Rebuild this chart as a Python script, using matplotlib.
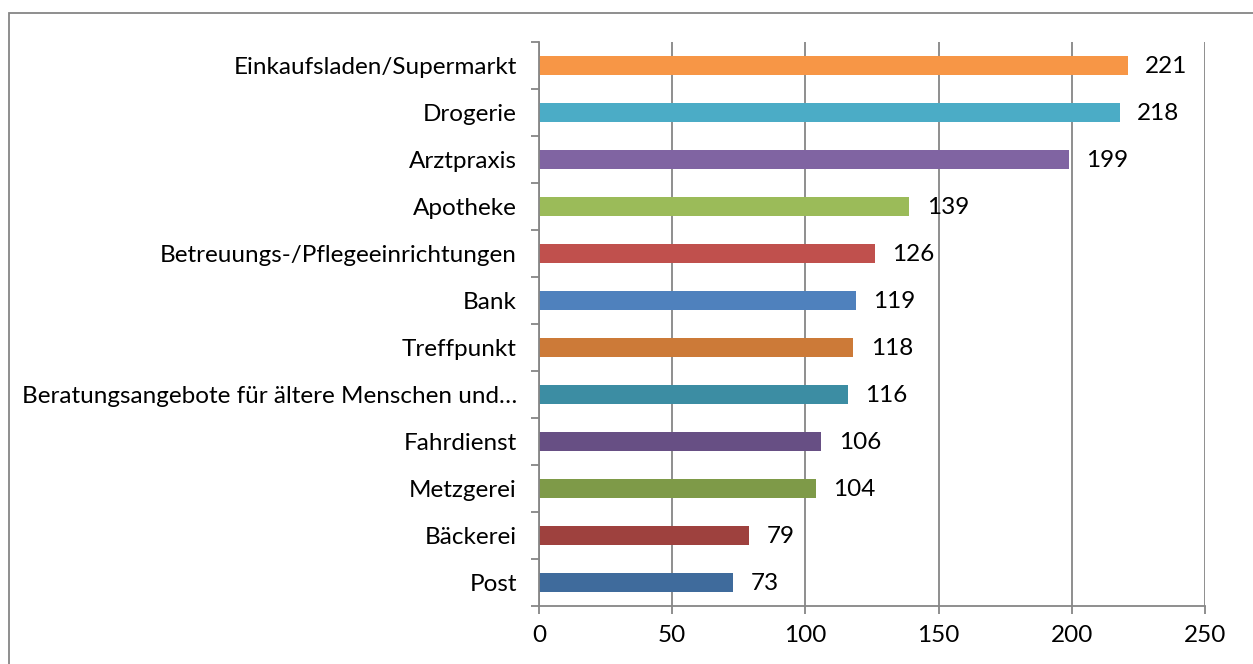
import matplotlib
matplotlib.use("Agg")
import matplotlib.pyplot as plt
from matplotlib.patches import Rectangle

categories = ["Einkaufsladen/Supermarkt", "Drogerie", "Arztpraxis", "Apotheke",
              "Betreuungs-/Pflegeeinrichtungen", "Bank", "Treffpunkt",
              "Beratungsangebote für ältere Menschen und…", "Fahrdienst",
              "Metzgerei", "Bäckerei", "Post"]
values = [221, 218, 199, 139, 126, 119, 118, 116, 106, 104, 79, 73]
colors = ["#F79646", "#4BACC6", "#8064A2", "#9BBB59", "#C0504D", "#4F81BD",
          "#CC7A38", "#3C8DA3", "#674F84", "#7E9A48", "#9E413E", "#3F6B9C"]
xticks = [0, 50, 100, 150, 200, 250]

plt.rcParams['font.family'] = ['Lato', 'DejaVu Sans']
FS = 17.5
W, H = 1253, 664
fig = plt.figure(figsize=(W/100, H/100), dpi=100)
ax = fig.add_axes([539/W, 1-606/H, (1205-539)/W, (606-42)/H])

n = len(categories)
ypos = list(range(n))[::-1]
ax.barh(ypos, values, height=0.4, color=colors, zorder=3)
for y, v in zip(ypos, values):
    ax.annotate(str(v), (v, y), xytext=(12.5, -1), textcoords='offset points',
                ha='left', va='center', fontsize=FS, color='black')

ax.set_xlim(0, 250)
ax.set_ylim(-0.5, n-0.5)
ax.set_xticks(xticks)
ax.set_xticklabels([str(t) for t in xticks])
ax.set_yticks(ypos)
ax.set_yticklabels(categories)
ax.set_yticks([i - 0.5 for i in range(n+1)], minor=True)
ax.tick_params(axis='y', which='major', length=0, pad=16, labelsize=FS)
ax.tick_params(axis='y', which='minor', length=6, width=1.3, color='#868686', direction='out')
ax.tick_params(axis='x', length=6, width=1.3, color='#868686', pad=8, labelsize=FS)
ax.grid(axis='x', color='#868686', linewidth=1.3, zorder=0)
for s in ['top', 'right']:
    ax.spines[s].set_visible(False)
for s in ['left', 'bottom']:
    ax.spines[s].set_color('#868686')
    ax.spines[s].set_linewidth(1.3)
    ax.spines[s].set_zorder(4)

fig.patches.append(Rectangle((9/W, -0.1), 1.2, 1.1 - 13/H, transform=fig.transFigure,
                             fill=False, edgecolor='#868686', linewidth=1.3))
fig.savefig("out.png", dpi=100)
